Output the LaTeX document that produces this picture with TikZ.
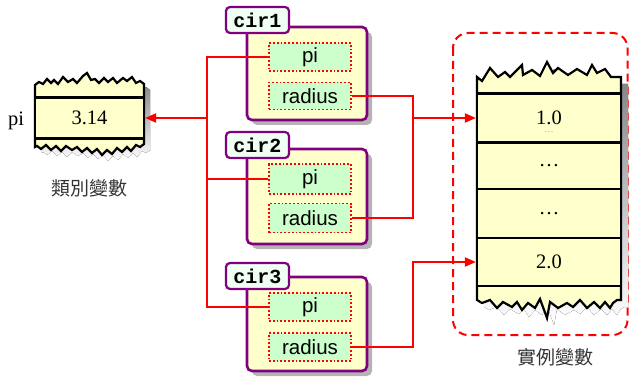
\documentclass[tikz,border=0pt]{standalone}
\usepackage{fontspec}
\setmainfont{Liberation Serif}
\setsansfont{Liberation Sans}
\setmonofont{Liberation Mono}
\newfontfamily\cjkfont{Noto Sans CJK TC}
\usetikzlibrary{arrows.meta,shadows}

\definecolor{memfill}{HTML}{FFFFCC}
\definecolor{fieldfill}{HTML}{CCFFCC}
\definecolor{objline}{HTML}{800080}
\definecolor{tabfill}{HTML}{F0FFF4}
\definecolor{shade}{HTML}{B4B4B4}

\tikzset{
  memcell/.style={draw=black, line width=2.2pt, fill=memfill, inner sep=0pt,
    font=\fontsize{20.5}{24}\selectfont},
  field/.style={draw=red, line width=1.8pt, dotted, fill=fieldfill,
    minimum width=82pt, minimum height=28pt, inner sep=0pt,
    font=\sffamily\fontsize{20.5}{24}\selectfont},
  objbox/.style={draw=objline, line width=2.6pt, fill=memfill, rounded corners=5pt,
    minimum width=120pt, inner sep=0pt,
    drop shadow={shadow xshift=5pt, shadow yshift=-5pt, fill=shade, opacity=1}},
  tab/.style={draw=objline, line width=2.2pt, fill=tabfill, rounded corners=4pt,
    minimum width=63pt, minimum height=26pt, inner sep=0pt,
    font=\ttfamily\bfseries\fontsize{20}{22}\selectfont},
  wire/.style={draw=red, line width=2pt},
  tip/.style={-{Triangle[length=11pt,width=9pt]}},
  caption/.style={font=\cjkfont\fontsize{19}{22}\selectfont, text=black!80},
  plain/.style={font=\fontsize{20.5}{24}\selectfont},
  jag/.style={line width=2.2pt, fill=memfill},
}

% value with faint dotted trace beneath it
\newcommand{\tracedvalue}[1]{\ooalign{#1\cr\hidewidth\raisebox{-8pt}[0pt][0pt]{\fontsize{9}{10}\selectfont\color{black!40}\dots}\hidewidth\cr}}

\begin{document}
\begin{tikzpicture}[x=1pt, y=-1pt]
\useasboundingbox (0,0) rectangle (629,377);

% ---------- class variable (static memory) ----------
\fill[shade, shift={(6,6)}]
  (35,85) -- (39,82) -- (43,84) -- (47,79) -- (51,83) -- (54,80) -- (58,84) -- (63,77)
  -- (68,82) -- (73,79) -- (77,83) -- (83,76) -- (87,73) -- (91,80) -- (95,79) -- (99,83)
  -- (104,78) -- (108,82) -- (113,78) -- (117,83) -- (123,78) -- (127,81) -- (132,77)
  -- (136,83) -- (140,81) -- (144,84) -- (144,144) -- (140,147) -- (136,145) -- (131,151)
  -- (127,147) -- (122,152) -- (117,148) -- (112,154) -- (107,150) -- (102,155) -- (97,149)
  -- (92,153) -- (87,148) -- (82,152) -- (77,147) -- (72,150) -- (66,146) -- (61,151)
  -- (56,146) -- (51,150) -- (46,145) -- (41,149) -- (37,146) -- (35,147) -- cycle;
\draw[jag]
  (35,85) -- (39,82) -- (43,84) -- (47,79) -- (51,83) -- (54,80) -- (58,84) -- (63,77)
  -- (68,82) -- (73,79) -- (77,83) -- (83,76) -- (87,73) -- (91,80) -- (95,79) -- (99,83)
  -- (104,78) -- (108,82) -- (113,78) -- (117,83) -- (123,78) -- (127,81) -- (132,77)
  -- (136,83) -- (140,81) -- (144,84) -- (144,144) -- (140,147) -- (136,145) -- (131,151)
  -- (127,147) -- (122,152) -- (117,148) -- (112,154) -- (107,150) -- (102,155) -- (97,149)
  -- (92,153) -- (87,148) -- (82,152) -- (77,147) -- (72,150) -- (66,146) -- (61,151)
  -- (56,146) -- (51,150) -- (46,145) -- (41,149) -- (37,146) -- (35,147) -- cycle;
\node[memcell, minimum width=109pt, minimum height=41pt] (cls) at (89.5,118) {3.14};
\node[plain] (clsname) at (16,121) {pi};
\node[caption] (clscap) at (89,188) {類別變數};

% ---------- instance variable area ----------
\draw[red, line width=2pt, dash pattern=on 8pt off 5pt, rounded corners=15pt]
  (453,33) rectangle (627.5,335);

\fill[shade, shift={(7,7)}]
  (477,77) -- (482,81) -- (490,68) -- (498,77) -- (505,72) -- (510,77) -- (522,65)
  -- (523,75) -- (532,70) -- (540,76) -- (547,62) -- (553,73) -- (558,68) -- (568,75)
  -- (577,69) -- (587,75) -- (592,65) -- (597,73) -- (605,69) -- (611,77) -- (621,77)
  -- (621,300) -- (617,300) -- (613,303) -- (610,308) -- (605,302) -- (600,308) -- (594,302)
  -- (587,308) -- (580,300) -- (573,307) -- (567,303) -- (558,308) -- (550,302) -- (547,318)
  -- (540,299) -- (535,308) -- (528,303) -- (522,310) -- (517,302) -- (512,307) -- (503,302)
  -- (497,308) -- (490,300) -- (482,303) -- (477,300) -- cycle;
\draw[jag]
  (477,77) -- (482,81) -- (490,68) -- (498,77) -- (505,72) -- (510,77) -- (522,65)
  -- (523,75) -- (532,70) -- (540,76) -- (547,62) -- (553,73) -- (558,68) -- (568,75)
  -- (577,69) -- (587,75) -- (592,65) -- (597,73) -- (605,69) -- (611,77) -- (621,77)
  -- (621,300) -- (617,300) -- (613,303) -- (610,308) -- (605,302) -- (600,308) -- (594,302)
  -- (587,308) -- (580,300) -- (573,307) -- (567,303) -- (558,308) -- (550,302) -- (547,318)
  -- (540,299) -- (535,308) -- (528,303) -- (522,310) -- (517,302) -- (512,307) -- (503,302)
  -- (497,308) -- (490,300) -- (482,303) -- (477,300) -- cycle;
\node[memcell, minimum width=144pt, minimum height=49pt] (c1) at (549,118) {\tracedvalue{1.0}};
\node[memcell, minimum width=144pt, minimum height=47pt] (c2) at (549,166) {\dots};
\node[memcell, minimum width=144pt, minimum height=49pt] (c3) at (549,213.5) {\dots};
\node[memcell, minimum width=144pt, minimum height=48pt] (c4) at (549,262) {2.0};
\node[caption] (instcap) at (555,357) {實例變數};

% ---------- objects ----------
\node[objbox, minimum height=93pt] (o1) at (307,73.5) {};
\node[tab] (t1) at (257.5,20) {cir1};
\node[field] (p1) at (310,57) {pi};
\node[field, minimum height=27pt] (r1) at (310,96) {radius};

\node[objbox, minimum height=95pt] (o2) at (307,196.5) {};
\node[tab] (t2) at (257.5,145) {cir2};
\node[field, minimum height=30pt] (p2) at (310,179) {pi};
\node[field, minimum height=29pt] (r2) at (310,218) {radius};

\node[objbox, minimum height=94pt] (o3) at (307,324) {};
\node[tab] (t3) at (257.5,276) {cir3};
\node[field] (p3) at (310,307) {pi};
\node[field] (r3) at (310,347) {radius};

% ---------- connectors ----------
\coordinate (jx) at (207,0);
\coordinate (kx) at (413,0);

\draw[wire] (p1.west) -- (p1.west -| jx) -- (p3.west -| jx) -- (p3.west);
\draw[wire] (p2.west) -- (p2.west -| jx);
\draw[wire, tip] (cls.east -| jx) -- (cls.east);

\draw[wire] (r1.east) -- (r1.east -| kx) -- (r2.east -| kx) -- (r2.east);
\draw[wire, tip] (c1.west -| kx) -- (c1.west);
\draw[wire, tip] (r3.east) -- (r3.east -| kx) -- (c4.west -| kx) -- (c4.west);
\end{tikzpicture}
\end{document}
